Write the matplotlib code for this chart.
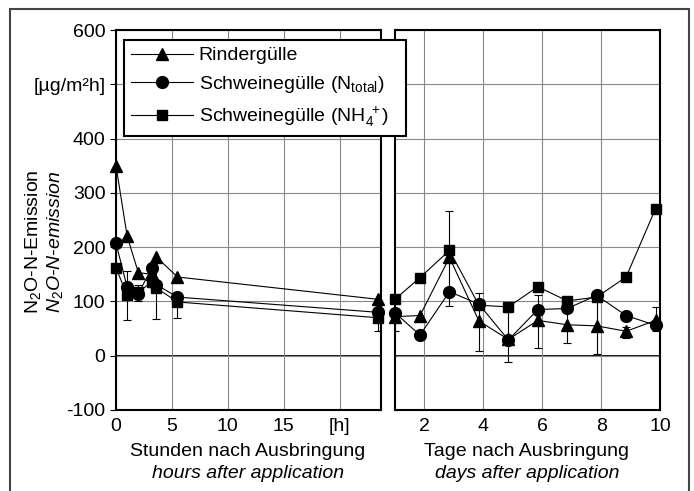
import numpy as np
import matplotlib
matplotlib.use("Agg")
import matplotlib.pyplot as plt
from matplotlib.patches import Rectangle

plt.rcParams['font.family'] = ['Liberation Sans', 'DejaVu Sans']
plt.rcParams['mathtext.fontset'] = 'custom'
plt.rcParams['mathtext.rm'] = 'Liberation Sans'
plt.rcParams['mathtext.it'] = 'Liberation Sans:italic'

# hours after application (left panel)
hours = [0, 1.0, 2.0, 3.2, 3.6, 5.5, 23.4]
rind_h = [350, 220, 153, 150, 182, 145, 104]
ntot_h = [207, 126, 114, 162, 131, 108, 80]
nh4_h = [162, 111, 117, 136, 125, 99, 70]

# error bars left panel (x, low, high)
err_h_x = [1.0, 2.0, 3.6, 5.5, 23.4]
err_h_lo = [65, 100, 68, 70, 45]
err_h_hi = [156, 131, 173, 110, 95]

# days after application (right panel)
days = [1.0, 1.85, 2.85, 3.85, 4.85, 5.85, 6.85, 7.85, 8.85, 9.85]
rind_d = [72, 74, 181, 64, 30, 65, 57, 55, 45, 65]
ntot_d = [79, 38, 118, 95, 29, 85, 87, 111, 74, 56]
nh4_d = [104, 144, 194, 93, 90, 127, 101, 108, 145, 271]

# error bars right panel
err_d_x = [1.0, 2.85, 3.85, 4.85, 5.85, 6.85, 7.85, 8.85, 9.85]
err_d_lo = [45, 91, 9, -11, 14, 24, 4, 33, 45]
err_d_hi = [100, 267, 115, 80, 112, 90, 108, 53, 90]

series_labels = ['Rindergülle', r'Schweinegülle (N$_{\mathrm{total}}$)',
                 r'Schweinegülle (NH$_4^{\ +}$)']
markers = ['^', 'o', 's']

W, H = 694, 491
fig = plt.figure(figsize=(W / 100, H / 100), dpi=100)

def px(x0, y0, x1, y1):
    return [x0 / W, 1 - y1 / H, (x1 - x0) / W, (y1 - y0) / H]

ax1 = fig.add_axes(px(116, 30, 381, 410))
ax2 = fig.add_axes(px(395, 30, 660, 410))

fs = 14

for ax, xs, data, ex, elo, ehi in [
        (ax1, hours, [rind_h, ntot_h, nh4_h], err_h_x, err_h_lo, err_h_hi),
        (ax2, days, [rind_d, ntot_d, nh4_d], err_d_x, err_d_lo, err_d_hi)]:
    ax.set_ylim(-100, 600)
    ax.set_yticks(range(-100, 601, 100))
    ax.grid(True, color='#888888', linewidth=0.8)
    ax.axhline(0, color='black', linewidth=1.3, zorder=1)
    mid = (np.array(elo) + np.array(ehi)) / 2
    half = (np.array(ehi) - np.array(elo)) / 2
    ax.errorbar(ex, mid, yerr=half, fmt='none', ecolor='black',
                elinewidth=0.8, capsize=3, capthick=0.8, zorder=2)
    for vals, m, lab in zip(data, markers, series_labels):
        ax.plot(xs, vals, color='black', linewidth=0.8, marker=m,
                markersize=8.5 if m != 's' else 7.5, label=lab, zorder=3,
                clip_on=False)
    for s in ax.spines.values():
        s.set_linewidth(1.5)
    ax.tick_params(axis='x', length=0, labelsize=fs, pad=6)
    ax.tick_params(axis='y', length=4, width=0.8, labelsize=fs, direction='out')

ax1.set_xlim(0, 23.7)
ax1.set_xticks([0, 5, 10, 15, 20])
ax1.set_xticklabels(['0', '5', '10', '15', '[h]'])
ylabs = [str(v) for v in range(-100, 601, 100)]
ylabs[6] = '[µg/m²h]'
ax1.set_yticklabels(ylabs)

ax2.set_xlim(1, 10)
ax2.set_xticks([2, 4, 6, 8, 10])
ax2.tick_params(axis='y', length=0, labelleft=False)

# axis titles
fig.text(248 / W, 1 - 451 / H, 'Stunden nach Ausbringung', ha='center', va='center', fontsize=fs)
fig.text(248 / W, 1 - 473 / H, 'hours after application', ha='center', va='center',
         fontsize=fs, style='italic')
fig.text(527 / W, 1 - 451 / H, 'Tage nach Ausbringung', ha='center', va='center', fontsize=fs)
fig.text(527 / W, 1 - 473 / H, 'days after application', ha='center', va='center',
         fontsize=fs, style='italic')
fig.text(33 / W, 1 - 242 / H, r'N$_2$O-N-Emission', rotation=90, ha='center', va='center',
         fontsize=fs)
fig.text(55 / W, 1 - 242 / H, r'$N_2$$\mathit{O}$-$\mathit{N}$-emission', rotation=90,
         ha='center', va='center', fontsize=fs, style='italic')

handles, labels = ax1.get_legend_handles_labels()
leg = fig.legend(handles, labels, loc='upper left',
                 bbox_to_anchor=(124 / W, 1 - 40 / H, (406 - 124) / W, 0.0),
                 mode='expand', fontsize=fs, frameon=True, fancybox=False,
                 edgecolor='black', framealpha=1, handlelength=3.2,
                 labelspacing=0.5, borderpad=0.35, handletextpad=0.3,
                 borderaxespad=0)
leg.get_frame().set_linewidth(1.5)

# outer frame
fig.patches.append(Rectangle((10 / W, -0.05), (689 - 10) / W, 1 - 9 / H + 0.05,
                             transform=fig.transFigure, fill=False,
                             edgecolor='#444444', linewidth=1.5))

fig.savefig('out.png', dpi=100)
